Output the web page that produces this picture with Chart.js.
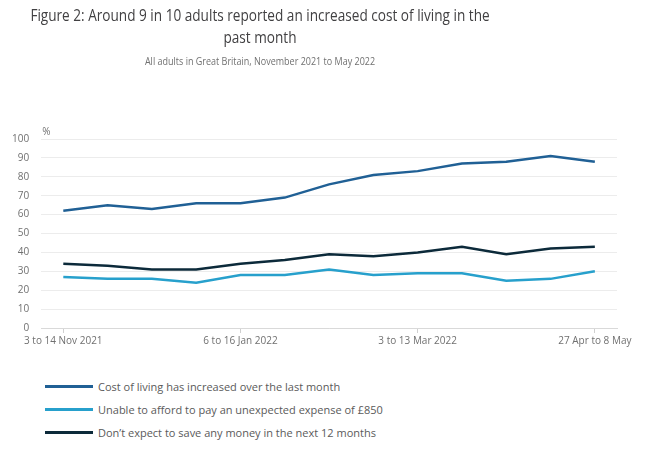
<!DOCTYPE html>
<html>
<head>
<meta charset="utf-8">
<script src="https://cdn.jsdelivr.net/npm/chart.js@4.4.1/dist/chart.umd.min.js"></script>
<style>
  body { margin: 0; background: #fff; font-family: "Open Sans", sans-serif; }
  #wrap { position: relative; width: 650px; height: 451px; overflow: hidden; }
  #chart { position: absolute; left: 0; top: 0; }
  .head { position: absolute; left: -65px; width: 650px; text-align: center; white-space: nowrap; }
  #title { top: 4px; font-size: 17px; line-height: 22px; color: #414042; transform: scaleX(0.8); }
  #subtitle { top: 54px; font-size: 10px; line-height: 14px; color: #707070; transform: scaleX(0.9); }
  #legend { position: absolute; left: 45px; top: 375px; }
  .item { display: flex; align-items: center; height: 23px; color: #5a5a5a; font-size: 11px; }
  .swatch { width: 48px; height: 3px; margin-right: 5px; }
</style>
</head>
<body>
<div id="wrap">
  <canvas id="chart" width="650" height="349"></canvas>
  <div id="title" class="head">Figure 2: Around 9 in 10 adults reported an increased cost of living in the<br>past month</div>
  <div id="subtitle" class="head">All adults in Great Britain, November 2021 to May 2022</div>
  <div id="legend"></div>
</div>
<script>
// survey periods, only a few of them get a label on the axis
const periods = [
  '3 to 14 Nov 2021', '', '', '', '6 to 16 Jan 2022', '', '', '',
  '3 to 13 Mar 2022', '', '', '', '27 Apr to 8 May'
];

const costOfLiving = [62, 65, 63, 66, 66, 69, 76, 81, 83, 87, 88, 91, 88];
const cantAfford850 = [27, 26, 26, 24, 28, 28, 31, 28, 29, 29, 25, 26, 30];
const noSavings = [34, 33, 31, 31, 34, 36, 39, 38, 40, 43, 39, 42, 43];

const seriesNames = [
  'Cost of living has increased over the last month',
  'Unable to afford to pay an unexpected expense of £850',
  'Don\u2019t expect to save any money in the next 12 months'
];
const seriesColors = ['#206095', '#27a0cc', '#0c2a3a'];

const yTicks = [0, 10, 20, 30, 40, 50, 60, 70, 80, 90, 100];

// draws the little "%" unit above the y axis
const unitLabel = {
  id: 'unitLabel',
  afterDraw(chart) {
    const { ctx, chartArea } = chart;
    ctx.save();
    ctx.font = '10px "Open Sans"';
    ctx.fillStyle = '#707070';
    ctx.textBaseline = 'middle';
    ctx.fillText('%', chartArea.left + 1, chartArea.top - 7);
    ctx.restore();
  }
};

const ctx = document.getElementById('chart').getContext('2d');
const chart = new Chart(ctx, {
  type: 'line',
  data: {
    labels: periods,
    datasets: [costOfLiving, cantAfford850, noSavings].map((vals, i) => ({
      label: seriesNames[i],
      data: vals,
      borderColor: seriesColors[i],
      backgroundColor: seriesColors[i],
      borderWidth: 2.5,
      pointRadius: 0,
      tension: 0
    }))
  },
  options: {
    responsive: false,
    animation: false,
    layout: { padding: { left: 0, right: 33, top: 139, bottom: 0 } },
    plugins: {
      legend: { display: false },
      tooltip: { enabled: false }
    },
    scales: {
      x: {
        offset: true,
        grid: {
          display: true,
          drawOnChartArea: false,
          tickLength: 5,
          tickColor: (c) => (periods[c.index] ? '#d0d0d0' : 'transparent')
        },
        border: { color: '#d9d9d9' },
        ticks: {
          autoSkip: false,
          maxRotation: 0,
          padding: 2,
          color: '#707070',
          font: { family: 'Open Sans', size: 10 }
        }
      },
      y: {
        min: 0,
        max: 100,
        afterBuildTicks: (axis) => { axis.ticks = yTicks.map(v => ({ value: v })); },
        grid: { color: '#ececec', drawTicks: false },
        border: { display: false },
        ticks: {
          padding: 12,
          color: '#707070',
          font: { family: 'Open Sans', size: 10 }
        }
      }
    }
  },
  plugins: [unitLabel]
});

// html legend, one row per series
const legend = document.getElementById('legend');
chart.data.datasets.forEach(ds => {
  const row = document.createElement('div');
  row.className = 'item';
  const sw = document.createElement('span');
  sw.className = 'swatch';
  sw.style.background = ds.borderColor;
  const txt = document.createElement('span');
  txt.textContent = ds.label;
  row.appendChild(sw);
  row.appendChild(txt);
  legend.appendChild(row);
});
</script>
</body>
</html>
